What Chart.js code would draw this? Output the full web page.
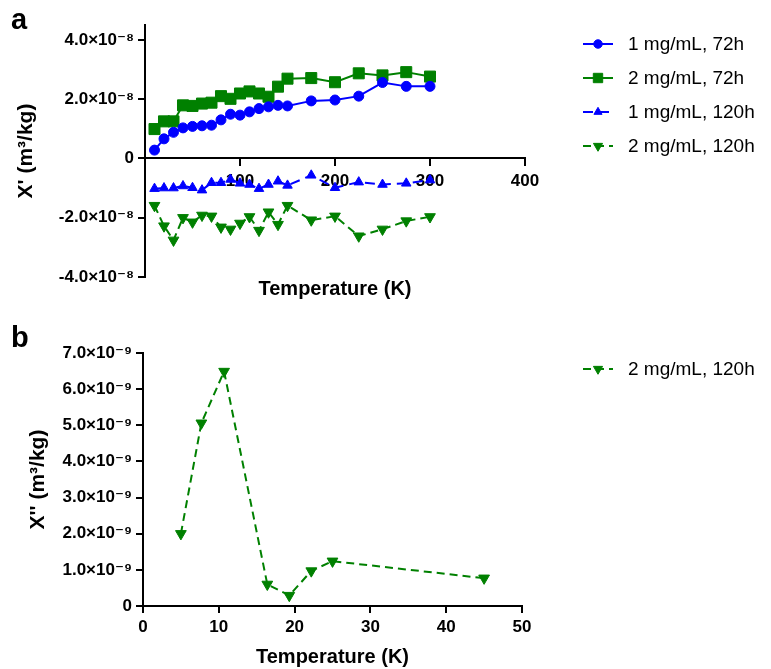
<!DOCTYPE html>
<html><head><meta charset="utf-8">
<script src="https://cdn.jsdelivr.net/npm/chart.js@4.4.0/dist/chart.umd.min.js"></script>
<style>
html,body{margin:0;padding:0;background:#fff;}
#wrap{position:relative;width:771px;height:669px;overflow:hidden;background:#fff;}
canvas{position:absolute;left:0;}
#ca{top:0;}
#cb{top:320px;}
</style></head><body>
<div id="wrap">
<canvas id="ca" width="771" height="310"></canvas>
<canvas id="cb" width="771" height="349"></canvas>
</div>
<script>
// ---------- Panel a data (values in units of 1e-8 m^3/kg) ----------
const tempA = [10,20,30,40,50,60,70,80,90,100,110,120,130,140,150,175,200,225,250,275,300];
const mg1h72 = [0.28,0.66,0.88,1.03,1.08,1.10,1.12,1.30,1.49,1.46,1.57,1.68,1.74,1.79,1.77,1.94,1.97,2.10,2.56,2.43,2.43];
const mg2h72 = [0.99,1.25,1.25,1.79,1.77,1.85,1.88,2.10,2.01,2.19,2.26,2.19,2.08,2.42,2.69,2.71,2.57,2.87,2.80,2.91,2.76];
const mg1h120 = [-1.02,-1.00,-1.00,-0.93,-0.99,-1.07,-0.82,-0.82,-0.71,-0.84,-0.88,-1.02,-0.88,-0.77,-0.91,-0.57,-0.99,-0.80,-0.88,-0.84,-0.73];
const mg2h120 = [-1.59,-2.28,-2.76,-2.00,-2.15,-1.92,-1.95,-2.32,-2.39,-2.19,-1.97,-2.43,-1.81,-2.23,-1.59,-2.08,-1.95,-2.62,-2.39,-2.11,-1.97];
const seriesNamesA = ['1 mg/mL, 72h','2 mg/mL, 72h','1 mg/mL, 120h','2 mg/mL, 120h'];
const yTicksA = [-4,-2,0,2,4];
const yTickLabelsA = ['-4.0\u00d710\u207b\u2078','-2.0\u00d710\u207b\u2078','0','2.0\u00d710\u207b\u2078','4.0\u00d710\u207b\u2078'];
const xTicksA = [0,100,200,300,400];
const xTickLabelsA = ['','100','200','300','400'];

// ---------- Panel b data (values in units of 1e-9 m^3/kg) ----------
const tempB = [5,7.7,10.7,16.4,19.3,22.2,25,45];
const mg2h120B = [2.0,5.06,6.49,0.60,0.29,0.97,1.24,0.77];
const seriesNamesB = ['2 mg/mL, 120h'];
const yTicksB = [0,1,2,3,4,5,6,7];
const yTickLabelsB = ['0','1.0\u00d710\u207b\u2079','2.0\u00d710\u207b\u2079','3.0\u00d710\u207b\u2079','4.0\u00d710\u207b\u2079','5.0\u00d710\u207b\u2079','6.0\u00d710\u207b\u2079','7.0\u00d710\u207b\u2079'];
const xTicksB = [0,10,20,30,40,50];
const xTickLabelsB = ['0','10','20','30','40','50'];

const FONT = "'Liberation Sans', Arial, 'DejaVu Sans', sans-serif";
Chart.defaults.font.family = FONT;
Chart.defaults.color = '#000';

const BLUE = '#0000ff', GREEN = '#008000';

function pts(xs, ys){ return xs.map((x,i)=>({x:x, y:ys[i]})); }

const legendPlugin = {
  id: 'customLegend',
  afterDraw(chart, args, opts) {
    const ctx = chart.ctx;
    ctx.save();
    chart.data.datasets.forEach((ds, i) => {
      const y = opts.y + i * opts.dy;
      const x = opts.x;
      ctx.strokeStyle = ds.borderColor;
      ctx.lineWidth = 2;
      ctx.setLineDash(ds.borderDash || []);
      ctx.beginPath(); ctx.moveTo(x, y); ctx.lineTo(x + 30, y); ctx.stroke();
      ctx.setLineDash([]);
      ctx.fillStyle = ds.pointBackgroundColor;
      ctx.strokeStyle = ds.pointBorderColor;
      ctx.lineWidth = 1;
      Chart.helpers.drawPoint(ctx, {pointStyle: ds.pointStyle, rotation: ds.pointRotation || 0, radius: ds.pointRadius * 0.85, borderWidth: 1}, x + 15, y);
      ctx.fillStyle = '#000';
      ctx.font = '19px ' + FONT;
      ctx.textBaseline = 'middle';
      ctx.textAlign = 'left';
      ctx.fillText(ds.label, x + 45, y + 1);
    });
    if (opts.panel) {
      ctx.font = 'bold 29px ' + FONT;
      ctx.textBaseline = 'alphabetic';
      ctx.fillText(opts.panel, 11, opts.panelY);
    }
    ctx.restore();
  }
};

function ds(label, xs, ys, color, style, radius, dash, rot){
  return {
    label: label, data: pts(xs, ys),
    borderColor: color, backgroundColor: color,
    pointBackgroundColor: color, pointBorderColor: color,
    pointStyle: style, pointRadius: radius, pointRotation: rot || 0,
    pointBorderWidth: 1, borderWidth: 2, borderDash: dash, tension: 0, clip: false
  };
}

// ---------- Chart a ----------
new Chart(document.getElementById('ca'), {
  type: 'line',
  data: { datasets: [
    ds(seriesNamesA[0], tempA, mg1h72, BLUE, 'circle', 5, []),
    ds(seriesNamesA[1], tempA, mg2h72, GREEN, 'rect', 7.8, []),
    ds(seriesNamesA[2], tempA, mg1h120, BLUE, 'triangle', 5.5, [10,6]),
    ds(seriesNamesA[3], tempA, mg2h120, GREEN, 'triangle', 6.2, [8,5], 180)
  ]},
  plugins: [legendPlugin],
  options: {
    responsive: false, animation: false,
    layout: { padding: { left: 0, top: 25, right: 246, bottom: 9 } },
    plugins: {
      legend: { display: false }, tooltip: { enabled: false },
      title: { display: true, text: 'Temperature (K)', position: 'bottom', fullSize: false,
               font: { size: 20, weight: 'bold' }, padding: 0, color: '#000' },
      customLegend: { x: 583, y: 44, dy: 34, panel: 'a', panelY: 29 }
    },
    scales: {
      x: {
        type: 'linear', min: 0, max: 400, position: { y: 0 },
        afterBuildTicks: s => { s.ticks = xTicksA.map(v => ({value: v})); },
        ticks: { font: { size: 17, weight: 'bold' }, color: '#000', maxRotation: 0, padding: 6,
                 callback: (v) => xTickLabelsA[xTicksA.indexOf(v)] },
        grid: { drawOnChartArea: false, drawTicks: true, tickLength: 7, color: '#000', lineWidth: 2 },
        border: { display: true, color: '#000', width: 2 }
      },
      y: {
        type: 'linear', min: -4, max: 4.5,
        afterBuildTicks: s => { s.ticks = yTicksA.map(v => ({value: v})); },
        afterFit: s => { s.width = 145; },
        ticks: { font: { size: 17, weight: 'bold' }, color: '#000', padding: 4,
                 callback: (v) => yTickLabelsA[yTicksA.indexOf(v)] },
        grid: { drawOnChartArea: false, drawTicks: true, tickLength: 7, color: '#000', lineWidth: 2 },
        border: { display: true, color: '#000', width: 2 },
        title: { display: true, text: "X' (m\u00b3/kg)", font: { size: 21, weight: 'bold' }, color: '#000', padding: { top: 14, bottom: 0 } }
      }
    }
  }
});

// ---------- Chart b ----------
new Chart(document.getElementById('cb'), {
  type: 'line',
  data: { datasets: [
    ds(seriesNamesB[0], tempB, mg2h120B, GREEN, 'triangle', 6.2, [8,5], 180)
  ]},
  plugins: [legendPlugin],
  options: {
    responsive: false, animation: false,
    layout: { padding: { left: 0, top: 33, right: 249, bottom: 0 } },
    plugins: {
      legend: { display: false }, tooltip: { enabled: false },
      customLegend: { x: 583, y: 49, dy: 34, panel: 'b', panelY: 27 }
    },
    scales: {
      x: {
        type: 'linear', min: 0, max: 50, position: 'bottom',
        afterBuildTicks: s => { s.ticks = xTicksB.map(v => ({value: v})); },
        afterFit: s => { s.height = 63; },
        ticks: { font: { size: 17, weight: 'bold' }, color: '#000', maxRotation: 0, padding: 4,
                 callback: (v) => xTickLabelsB[xTicksB.indexOf(v)] },
        grid: { drawOnChartArea: false, drawTicks: true, tickLength: 7, color: '#000', lineWidth: 2 },
        border: { display: true, color: '#000', width: 2 },
        title: { display: true, text: 'Temperature (K)', font: { size: 20, weight: 'bold' }, color: '#000', padding: 0 }
      },
      y: {
        type: 'linear', min: 0, max: 7,
        afterBuildTicks: s => { s.ticks = yTicksB.map(v => ({value: v})); },
        afterFit: s => { s.width = 143; },
        ticks: { font: { size: 17, weight: 'bold' }, color: '#000', padding: 4,
                 callback: (v) => yTickLabelsB[yTicksB.indexOf(v)] },
        grid: { drawOnChartArea: false, drawTicks: true, tickLength: 7, color: '#000', lineWidth: 2 },
        border: { display: true, color: '#000', width: 2 },
        title: { display: true, text: "X'' (m\u00b3/kg)", font: { size: 21, weight: 'bold' }, color: '#000', padding: { top: 26, bottom: 0 } }
      }
    }
  }
});
</script>
</body></html>
